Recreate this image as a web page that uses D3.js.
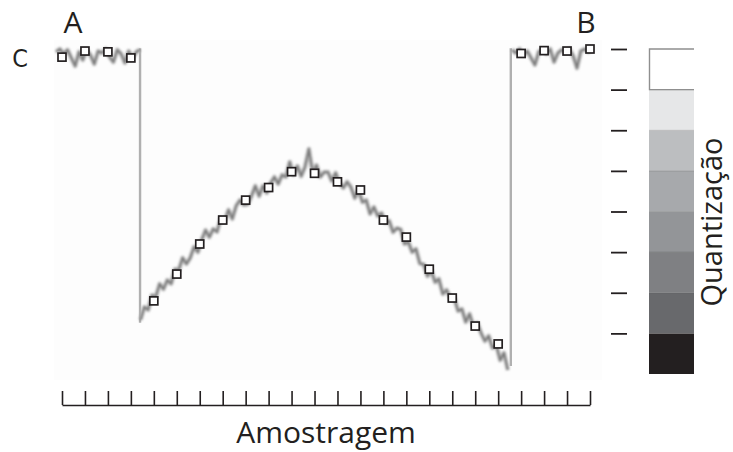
<!DOCTYPE html>
<meta charset="utf-8">
<script src="https://d3js.org/d3.v7.min.js"></script>
<style>
  body { margin: 0; background: #fff; }
  text { font-family: "Open Sans", "Noto Sans", sans-serif; fill: #231f20; }
</style>
<div id="chart"></div>
<script>
  // sample positions (x ticks) and the sampled values (squares)
  var sampleIndex = [0,1,2,3,4,5,6,7,8,9,10,11,12,13,14,15,16,17,18,19,20,21,22,23];
  var sampleValues = [7.80,7.95,7.93,7.78,1.80,2.46,3.20,3.79,4.28,4.59,4.98,4.94,
                      4.73,4.53,3.79,3.37,2.58,1.87,1.18,0.74,7.89,7.96,7.95,8.00];

  // quantization levels (right ticks) and grey band of each level, bottom to top
  var levelTicks = [1,2,3,4,5,6,7,8];
  var bandGrays = ["#231f20","#68696c","#7f8083","#939598","#a7a9ac","#bcbec0","#e6e7e8","#ffffff"];

  // noisy analog signal, step = 1/6 of a sample
  var traceStep = 1/6;
  var leftStart = -0.26;
  var leftTrace = [7.93,8.00,7.88,7.98,7.78,7.58,7.93,7.73,7.98,7.85,7.63,7.95,
                   7.90,8.00,7.80,7.68,7.98,7.88,7.66,7.95,7.78,7.93,7.98];
  var curveStart = 3.42;
  var curveTrace = [1.33,1.65,1.58,1.94,1.90,2.22,2.09,2.31,2.22,2.58,2.56,2.86,
                    2.71,2.86,3.13,3.00,3.30,3.54,3.37,3.57,3.50,3.84,3.77,4.04,
                    3.82,4.14,4.28,4.16,4.18,4.38,4.63,4.38,4.63,4.46,4.70,4.85,
                    4.68,4.90,4.85,5.22,4.90,5.12,4.87,5.10,5.54,4.95,5.14,4.85,
                    4.97,4.97,4.75,4.95,4.70,4.58,4.73,4.60,4.33,4.53,4.23,4.28,
                    3.94,4.11,3.89,3.96,3.72,3.77,3.49,3.59,3.56,3.20,3.25,3.00,
                    3.08,2.72,2.70,2.41,2.54,2.26,2.34,1.97,2.07,1.87,1.87,1.55,
                    1.60,1.28,1.48,1.18,1.26,1.01,0.81,0.94,0.64,0.71,0.34,0.52,0.10];
  var rightStart = 19.60;
  var rightTrace = [7.98,7.90,8.00,7.85,7.95,7.78,7.61,7.93,7.98,7.88,8.00,7.68,
                    7.90,7.98,7.93,8.00,7.83,7.53,7.95,8.00,7.93,8.02];

  // the two sharp edges of the signal
  var edges = [{at: 3.40, from: 8.02, to: 1.26}, {at: 19.55, from: 0.20, to: 8.02}];

  var width = 733, height = 452;
  var svg = d3.select("#chart").append("svg")
      .attr("width", width)
      .attr("height", height);

  var defs = svg.append("defs");
  defs.append("filter").attr("id", "soft")
      .append("feGaussianBlur").attr("stdDeviation", 0.8);

  var x = d3.scaleLinear().domain([0, 23]).range([62, 590]);
  var y = d3.scaleLinear().domain([0, 8]).range([374, 49]);

  // faint plot area
  svg.append("rect")
      .attr("x", 54).attr("y", 40)
      .attr("width", 548).attr("height", 340)
      .attr("fill", "#fdfdfd");

  // edges
  svg.append("g").selectAll("line")
    .data(edges)
    .enter().append("line")
      .attr("x1", d => x(d.at)).attr("x2", d => x(d.at))
      .attr("y1", d => y(d.from)).attr("y2", d => y(d.to))
      .attr("stroke", "#b0b0b0")
      .attr("stroke-width", 2.4);

  var line = d3.line()
      .x(d => x(d[0]))
      .y(d => y(d[1]));

  function toPoints(start, arr) {
    return arr.map((v, i) => [start + i * traceStep, v]);
  }

  var traces = [toPoints(leftStart, leftTrace), toPoints(curveStart, curveTrace), toPoints(rightStart, rightTrace)];

  var tg = svg.append("g").attr("filter", "url(#soft)");
  // light halo then darker core
  tg.selectAll("path.halo")
    .data(traces)
    .enter().append("path")
      .attr("class", "halo")
      .attr("d", line)
      .attr("fill", "none")
      .attr("stroke", "#c4c4c4")
      .attr("stroke-width", 4.5)
      .attr("stroke-linejoin", "round");
  tg.selectAll("path.core")
    .data(traces)
    .enter().append("path")
      .attr("class", "core")
      .attr("d", line)
      .attr("fill", "none")
      .attr("stroke", "#7a7a7a")
      .attr("stroke-width", 2.2)
      .attr("stroke-linejoin", "round");

  // samples
  svg.append("g").selectAll("rect")
    .data(sampleIndex)
    .enter().append("rect")
      .attr("x", d => x(d) - 4)
      .attr("y", d => y(sampleValues[d]) - 4)
      .attr("width", 8).attr("height", 8)
      .attr("fill", "#fff")
      .attr("stroke", "#231f20")
      .attr("stroke-width", 1.7);

  // bottom axis, ticks pointing up
  var xAxis = svg.append("g")
      .attr("transform", "translate(0,405)")
      .call(d3.axisTop(x).tickValues(sampleIndex).tickSizeInner(14).tickSizeOuter(0).tickFormat(""));
  xAxis.select(".domain").attr("stroke", "#231f20").attr("stroke-width", 1.6);
  xAxis.selectAll(".tick line").attr("stroke", "#231f20").attr("stroke-width", 1.6);

  // right level ticks
  var yAxis = svg.append("g")
      .attr("transform", "translate(627,0)")
      .call(d3.axisLeft(y).tickValues(levelTicks).tickSize(16).tickFormat(""));
  yAxis.select(".domain").remove();
  yAxis.selectAll(".tick line").attr("stroke", "#231f20").attr("stroke-width", 1.8);

  // grey scale bar
  var bar = svg.append("g");
  bar.selectAll("rect")
    .data(bandGrays)
    .enter().append("rect")
      .attr("x", 649)
      .attr("y", (d, i) => y(i + 1))
      .attr("width", 45)
      .attr("height", (d, i) => y(i) - y(i + 1))
      .attr("fill", d => d);
  bar.selectAll("line.sep")
    .data(levelTicks.slice(1, 7))
    .enter().append("line")
      .attr("class", "sep")
      .attr("x1", 649).attr("x2", 694)
      .attr("y1", d => y(d)).attr("y2", d => y(d))
      .attr("stroke", "rgba(0,0,0,0.12)")
      .attr("stroke-width", 1.2);
  bar.append("path")
      .attr("d", "M694," + y(8) + "H649.5V" + y(7) + "H694")
      .attr("fill", "none")
      .attr("stroke", "#8f8f8f")
      .attr("stroke-width", 1.4);

  // texts
  svg.append("text")
      .attr("x", 326).attr("y", 443)
      .attr("text-anchor", "middle")
      .attr("font-size", 30)
      .text("Amostragem");

  svg.append("text")
      .attr("transform", "translate(722,222) rotate(-90)")
      .attr("text-anchor", "middle")
      .attr("font-size", 29)
      .text("Quantização");

  svg.append("text")
      .attr("x", 73).attr("y", 33)
      .attr("text-anchor", "middle")
      .attr("font-size", 30)
      .text("A");

  svg.append("text")
      .attr("x", 586).attr("y", 33)
      .attr("text-anchor", "middle")
      .attr("font-size", 30)
      .text("B");

  svg.append("text")
      .attr("x", 20).attr("y", 67)
      .attr("text-anchor", "middle")
      .attr("font-size", 25)
      .style("font-family", "'Liberation Sans Narrow', 'DejaVu Sans Condensed', sans-serif")
      .text("C");
</script>
